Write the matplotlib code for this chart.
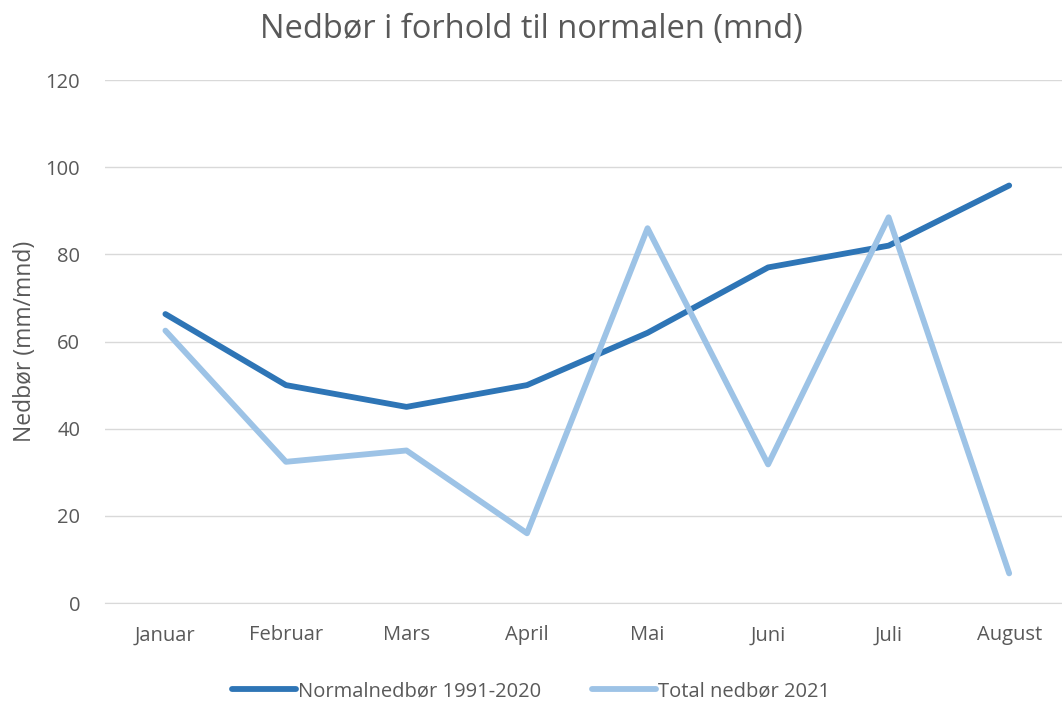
import numpy as np
import matplotlib.pyplot as plt

plt.rcParams['font.family'] = ['Open Sans', 'DejaVu Sans']

months = ['Januar', 'Februar', 'Mars', 'April', 'Mai', 'Juni', 'Juli', 'August']
normal = [66.3, 50, 45, 50, 62, 77, 82, 95.8]
total_2021 = [62.5, 32.4, 35, 16, 86, 31.8, 88.5, 6.8]

txt = '#595959'
fig = plt.figure(figsize=(10.62, 7.02), dpi=100)
ax = fig.add_axes([0.099, 0.141, 0.908, 0.745])

x = np.arange(len(months))
ax.plot(x, normal, color='#2E75B6', linewidth=4.2, label='Normalnedbør 1991-2020', solid_capstyle='round')
ax.plot(x, total_2021, color='#9DC3E6', linewidth=4.2, label='Total nedbør 2021', solid_capstyle='round')

ax.set_xlim(-0.5, 7.5)
ax.set_ylim(0, 120)
ax.set_yticks(range(0, 121, 20))
ax.set_xticks(x)
ax.set_xticklabels(months)
ax.grid(axis='y', color='#D9D9D9', linewidth=1)
ax.set_axisbelow(True)
for s in ['top', 'right', 'left']:
    ax.spines[s].set_visible(False)
ax.spines['bottom'].set_color('#D9D9D9')
ax.tick_params(length=0, labelsize=14.5, colors=txt)
ax.tick_params(axis='x', pad=16)
ax.tick_params(axis='y', pad=18)
ax.set_ylabel('Nedbør (mm/mnd)', fontsize=16.5, color=txt, labelpad=6)

fig.suptitle('Nedbør i forhold til normalen (mnd)', fontsize=23.5, color=txt, y=0.982)
fig.legend(loc='lower center', bbox_to_anchor=(0.5, -0.025), ncol=2, frameon=False,
           fontsize=14.5, labelcolor=txt, handlelength=3.2, handletextpad=0.1, columnspacing=2.5)

fig.savefig('out.png', dpi=100)
